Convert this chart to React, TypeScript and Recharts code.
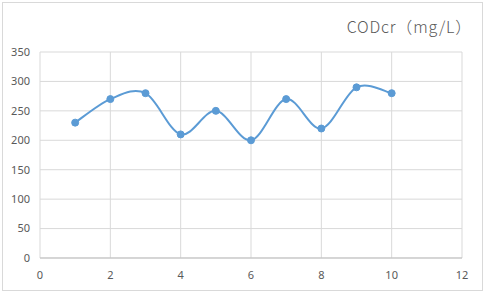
import React from "react"
import { LineChart, Line, XAxis, YAxis, CartesianGrid } from "recharts"

const xValues = [1, 2, 3, 4, 5, 6, 7, 8, 9, 10]
const codValues = [230, 270, 280, 210, 250, 200, 270, 220, 290, 280]
const xTicks = [0, 2, 4, 6, 8, 10, 12]
const yTicks = [0, 50, 100, 150, 200, 250, 300, 350]

const data = xValues.map((x, i) => ({ x, cod: codValues[i] }))

// Excel-style smoothed line (Catmull-Rom style Bezier, tension 1/6)
function excelCurve(context: any) {
  let pts: number[][] = []
  return {
    areaStart() {},
    areaEnd() {},
    lineStart() {
      pts = []
    },
    point(x: number, y: number) {
      pts.push([+x, +y])
    },
    lineEnd() {
      const n = pts.length
      if (!n) return
      context.moveTo(pts[0][0], pts[0][1])
      for (let i = 0; i < n - 1; i++) {
        const p0 = pts[Math.max(i - 1, 0)]
        const p1 = pts[i]
        const p2 = pts[i + 1]
        const p3 = pts[Math.min(i + 2, n - 1)]
        context.bezierCurveTo(
          p1[0] + (p2[0] - p0[0]) / 6,
          p1[1] + (p2[1] - p0[1]) / 6,
          p2[0] - (p3[0] - p1[0]) / 6,
          p2[1] - (p3[1] - p1[1]) / 6,
          p2[0],
          p2[1]
        )
      }
    },
  }
}

const tickStyle = { fill: "#595959", fontSize: 11, fontFamily: "'Noto Sans', sans-serif" }

export default function App() {
  return (
    <div style={{ position: "absolute", left: 0, top: 0, width: 485, height: 293, background: "#fff" }}>
      <div
        style={{
          position: "absolute",
          left: 2,
          top: 2,
          width: 479,
          height: 287,
          border: "1px solid #d9d9d9",
        }}
      />
      <div
        style={{
          position: "absolute",
          right: 13,
          top: 15,
          fontSize: 16,
          lineHeight: "22px",
          letterSpacing: 0.8,
          color: "#595959",
          fontFamily: "'Noto Sans CJK SC', sans-serif",
          fontWeight: 300,
          whiteSpace: "nowrap",
        }}
      >
        CODcr（mg/L）
      </div>
      <LineChart
        width={485}
        height={293}
        data={data}
        margin={{ top: 52, right: 23, left: 0, bottom: 5 }}
        style={{ position: "absolute", left: 0, top: 0 }}
      >
        <CartesianGrid stroke="#d9d9d9" strokeWidth={1} />
        <XAxis
          dataKey="x"
          type="number"
          domain={[0, 12]}
          ticks={xTicks}
          height={30}
          tickSize={0}
          tickMargin={13}
          axisLine={{ stroke: "#bfbfbf" }}
          tickLine={false}
          tick={tickStyle}
        />
        <YAxis
          type="number"
          domain={[0, 350]}
          ticks={yTicks}
          width={40}
          tickSize={0}
          tickMargin={10}
          axisLine={false}
          tickLine={false}
          tick={tickStyle}
        />
        <Line
          dataKey="cod"
          type={excelCurve as any}
          stroke="#5b9bd5"
          strokeWidth={2}
          dot={{ r: 3.5, fill: "#5b9bd5", stroke: "#5b9bd5", strokeWidth: 1 }}
          isAnimationActive={false}
        />
      </LineChart>
    </div>
  )
}
